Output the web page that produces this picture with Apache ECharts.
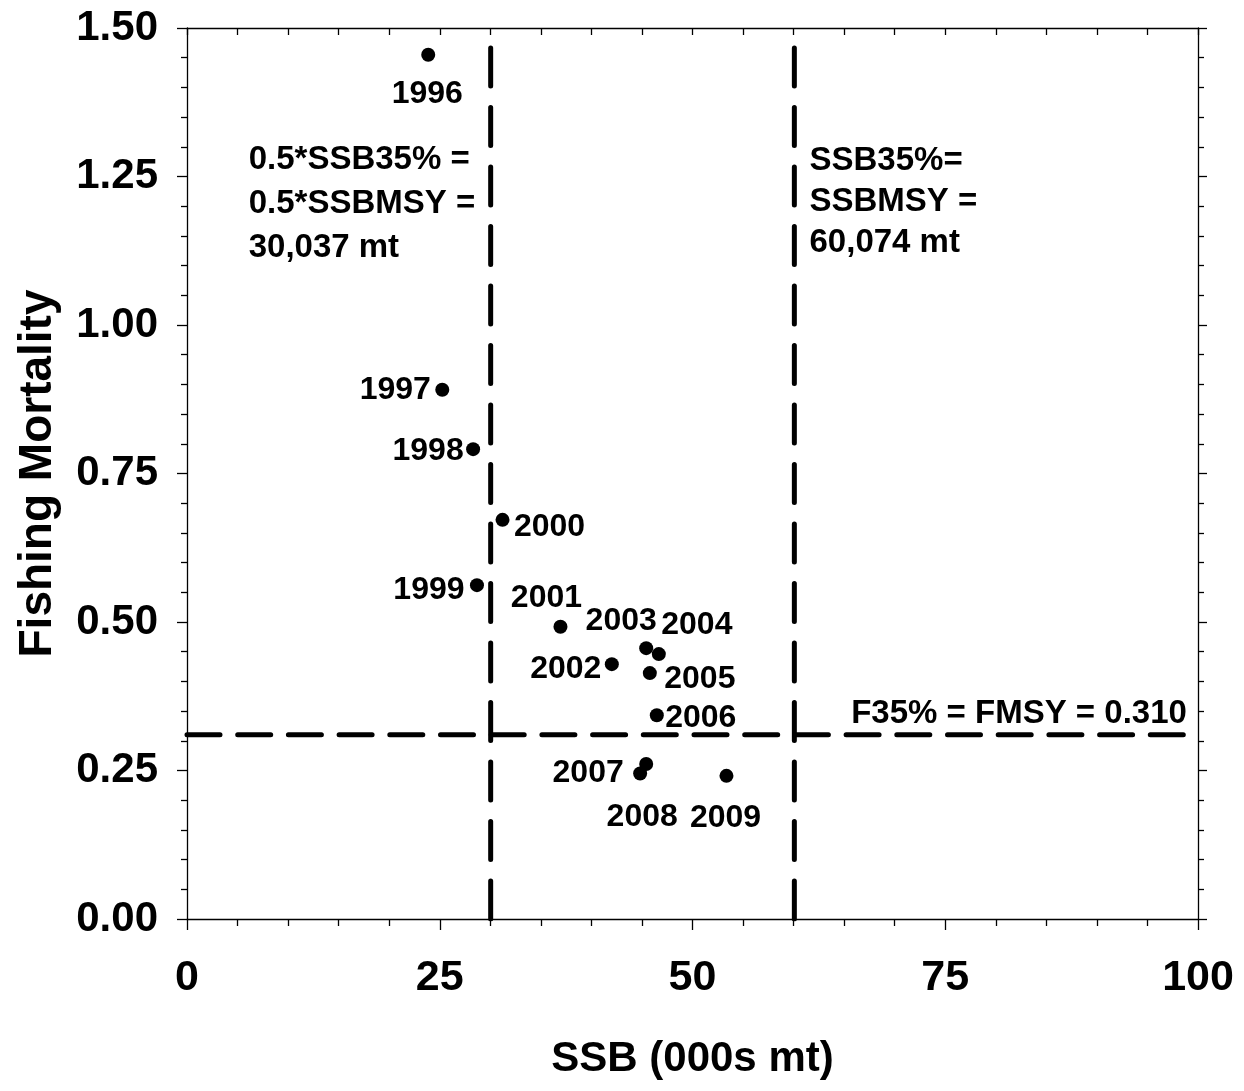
<!DOCTYPE html>
<html>
<head>
<meta charset="utf-8">
<script src="https://cdn.jsdelivr.net/npm/echarts@6/dist/echarts.min.js"></script>
<style>
html,body{margin:0;padding:0;background:#fff;}
#chart{width:1244px;height:1091px;}
</style>
</head>
<body>
<div id="chart"></div>
<script>
// ---- data ----
var years = ['1996','1997','1998','1999','2000','2001','2002','2003','2004','2005','2006','2007','2008','2009'];
var ssb   = [23.86, 25.25, 28.3, 28.68, 31.21, 36.94, 42.02, 45.42, 46.67, 45.78, 46.47, 44.82, 45.42, 53.36];
var fmort = [1.455, 0.891, 0.791, 0.562, 0.672, 0.492, 0.429, 0.456, 0.446, 0.414, 0.343, 0.245, 0.261, 0.241];
var xTicks = [0, 25, 50, 75, 100];
var yTicks = [0.00, 0.25, 0.50, 0.75, 1.00, 1.25, 1.50];
var ssbHalf = 30.037;
var ssbMsy = 60.074;
var fMsy = 0.310;
var annotHalf = ['0.5*SSB35% =', '0.5*SSBMSY =', '30,037 mt'];
var annotMsy = ['SSB35%=', 'SSBMSY =', '60,074 mt'];
var annotF = 'F35% = FMSY = 0.310';

// ---- label placement (style only) ----
var labelOffsets = [[-1,39],[-47,0],[-45,2],[-48,5],[47,7],[-14,-29],[-46,5],[-25,-27],[38,-29],[50,6],[44,3],[-52,0],[-4,53],[-1,42]];

var FONT = '"Liberation Sans", Arial, sans-serif';

var pts = ssb.map(function (x, i) {
  return {
    value: [x, fmort[i]],
    name: years[i],
    label: { offset: labelOffsets[i] }
  };
});

var chart = echarts.init(document.getElementById('chart'), null, { renderer: 'canvas' });

var dashH = { color: '#000', width: 5, type: [33, 17.7], cap: 'round', opacity: 1 };
var dashV = { color: '#000', width: 5, type: [38, 21.5], cap: 'round', opacity: 1 };

var option = {
  animation: false,
  backgroundColor: '#fff',
  grid: { left: 187, right: 46, top: 28, bottom: 172, containLabel: false },
  xAxis: [{
    type: 'value', position: 'bottom', min: xTicks[0], max: xTicks[xTicks.length - 1], interval: 25,
    name: 'SSB (000s mt)', nameLocation: 'middle', nameGap: 119,
    nameTextStyle: { fontFamily: FONT, fontWeight: 'bold', fontSize: 42, color: '#000' },
    axisLine: { onZero: false, lineStyle: { color: '#000', width: 1.3 } },
    axisTick: { show: true, inside: false, length: 11, lineStyle: { color: '#000', width: 1.3 } },
    minorTick: { show: true, splitNumber: 5, length: 7, lineStyle: { color: '#000', width: 1.3 } },
    axisLabel: { fontFamily: FONT, fontWeight: 'bold', fontSize: 43, color: '#000', margin: 38 },
    splitLine: { show: false }
  }, {
    type: 'value', position: 'top', min: 0, max: 100, interval: 5,
    axisLine: { onZero: false, lineStyle: { color: '#000', width: 1.3 } },
    axisTick: { show: true, inside: true, length: 7, lineStyle: { color: '#000', width: 1.3 } },
    axisLabel: { show: false },
    splitLine: { show: false }
  }],
  yAxis: [{
    type: 'value', position: 'left', min: yTicks[0], max: yTicks[yTicks.length - 1], interval: 0.25,
    name: 'Fishing Mortality', nameLocation: 'middle', nameGap: 126, nameRotate: 90,
    nameTextStyle: { fontFamily: FONT, fontWeight: 'bold', fontSize: 46, color: '#000' },
    axisLine: { onZero: false, lineStyle: { color: '#000', width: 1.3 } },
    axisTick: { show: true, inside: false, length: 10, lineStyle: { color: '#000', width: 1.3 } },
    minorTick: { show: true, splitNumber: 5, length: 6, lineStyle: { color: '#000', width: 1.3 } },
    axisLabel: { fontFamily: FONT, fontWeight: 'bold', fontSize: 42, color: '#000', margin: 29,
      formatter: function (v) { return v.toFixed(2); } },
    splitLine: { show: false }
  }, {
    type: 'value', position: 'right', min: 0, max: 1.5, interval: 0.25,
    axisLine: { onZero: false, lineStyle: { color: '#000', width: 1.3 } },
    axisTick: { show: true, inside: false, length: 9, lineStyle: { color: '#000', width: 1.3 } },
    minorTick: { show: true, splitNumber: 5, length: 6, lineStyle: { color: '#000', width: 1.3 } },
    axisLabel: { show: false },
    splitLine: { show: false }
  }],
  series: [
    {
      type: 'line', xAxisIndex: 0, yAxisIndex: 0, symbol: 'none', silent: true,
      data: [[xTicks[0], fMsy], [xTicks[xTicks.length - 1], fMsy]], lineStyle: dashH, z: 2
    },
    {
      type: 'line', xAxisIndex: 0, yAxisIndex: 0, symbol: 'none', silent: true,
      data: [[ssbHalf, 0], [ssbHalf, 1.5]], lineStyle: dashV, z: 2
    },
    {
      type: 'line', xAxisIndex: 0, yAxisIndex: 0, symbol: 'none', silent: true,
      data: [[ssbMsy, 0], [ssbMsy, 1.5]], lineStyle: dashV, z: 2
    },
    {
      type: 'scatter', xAxisIndex: 0, yAxisIndex: 0, symbol: 'circle', symbolSize: 14,
      itemStyle: { color: '#000', opacity: 1 }, z: 5,
      label: {
        show: true, position: 'inside', align: 'center', verticalAlign: 'middle',
        formatter: function (p) { return p.name; },
        fontFamily: FONT, fontWeight: 'bold', fontSize: 32, color: '#000', opacity: 1
      },
      data: pts
    },
    {
      type: 'scatter', xAxisIndex: 0, yAxisIndex: 0, symbolSize: 0, silent: true, z: 5,
      itemStyle: { opacity: 1 },
      label: {
        show: true, position: 'inside', align: 'left', verticalAlign: 'top',
        fontFamily: FONT, fontWeight: 'bold', fontSize: 33, lineHeight: 44, color: '#000', opacity: 1,
        formatter: function (p) { return p.name; }
      },
      data: [
        { name: annotHalf.join('\n'), value: [6.1, 1.315] },
        { name: annotMsy.join('\n'), value: [ssbMsy + 1.5, 1.311], label: { lineHeight: 41 } },
        { name: annotF, value: [98.9, fMsy + 0.035], label: { align: 'right', verticalAlign: 'middle' } }
      ]
    }
  ]
};
chart.setOption(option);
</script>
</body>
</html>
